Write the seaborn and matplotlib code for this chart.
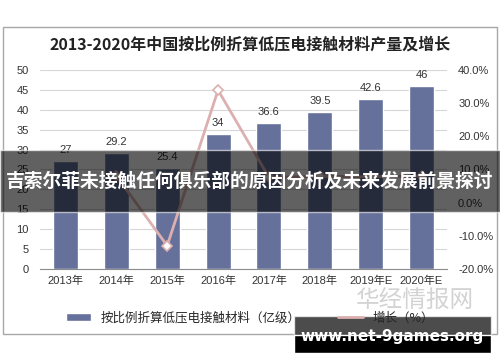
import numpy as np
import pandas as pd
import seaborn as sns
import matplotlib
matplotlib.use('Agg')
from matplotlib import pyplot as plt
from matplotlib.patches import Rectangle, Patch
from matplotlib.lines import Line2D
from matplotlib.ticker import FuncFormatter

# data
years = ['2013年', '2014年', '2015年', '2016年', '2017年', '2018年', '2019年E', '2020年E']
output = [27, 29.2, 25.4, 34, 36.6, 39.5, 42.6, 46]
growth = [np.nan, 8.1, -13.0, 33.9, 7.6, 7.9, 7.8, 8.0]

title = '2013-2020年中国按比例折算低压电接触材料产量及增长'
bar_label = '按比例折算低压电接触材料（亿级）'
line_label = '增长（%）'
banner = '吉索尔菲未接触任何俱乐部的原因分析及未来发展前景探讨'
site = 'www.net-9games.org'

sns.set_style('white')
plt.rcParams['font.family'] = ['Liberation Sans', 'Noto Sans CJK SC', 'DejaVu Sans']

bar_color = '#66719b'
line_color = '#dcb0b0'

df = pd.DataFrame({'year': years, 'output': output, 'growth': growth})

fig = plt.figure(figsize=(5, 3.62), dpi=100)
fig.patches.append(Rectangle((0.006, 0.077), 0.988, 0.848, transform=fig.transFigure,
                             fill=False, edgecolor='#a8a8a8', lw=1))
ax = fig.add_axes([0.08, 0.257, 0.814, 0.55])

sns.barplot(data=df, x='year', y='output', color=bar_color, width=0.49,
            saturation=1, ax=ax, zorder=2)
ax.set_ylim(0, 50)
ax.set_yticks(range(0, 51, 5))
ax.set_xlim(-0.5, len(years) - 0.5)
ax.grid(axis='y', color='#d6d6d6', lw=0.8, zorder=0)
ax.set_axisbelow(True)
for s in ['left', 'right', 'top']:
    ax.spines[s].set_visible(False)
ax.spines['bottom'].set_color('#8c8c8c')
ax.set_xlabel('')
ax.set_ylabel('')
ax.tick_params(axis='y', length=0, labelsize=8, colors='#333333', pad=8)
ax.tick_params(axis='x', length=0, labelsize=8, colors='#333333', pad=5)
ax.set_xticks(np.arange(-0.5, len(years)), minor=True)
ax.tick_params(axis='x', which='minor', length=4, color='#8c8c8c', direction='out')
for i, v in enumerate(output):
    ax.text(i, v + 1.5, f'{v:g}', ha='center', va='bottom', fontsize=8, color='#333333')

ax2 = ax.twinx()
pos = np.arange(len(years))
ax2.plot(pos, df['growth'], color=line_color, lw=2, marker='D', markersize=5,
         markerfacecolor='white', markeredgecolor=line_color, markeredgewidth=1.2, zorder=3)
ax2.set_ylim(-20, 40)
ax2.set_yticks(range(-20, 41, 10))
ax2.yaxis.set_major_formatter(FuncFormatter(lambda v, p: f'{v:.1f}%'))
ax2.tick_params(axis='y', length=0, labelsize=8, colors='#333333', pad=8)
for s in ax2.spines.values():
    s.set_visible(False)

fig.text(0.5, 0.876, title, ha='center', va='center', fontsize=11.5, fontweight='bold',
         family=['Noto Sans CJK SC'], color='#222222')

handles = [Patch(facecolor=bar_color), Line2D([0], [0], color=line_color, lw=2)]
fig.legend(handles, [bar_label, line_label], loc='center', bbox_to_anchor=(0.5, 0.122),
           ncol=2, frameon=False, fontsize=9, handlelength=2, columnspacing=3,
           prop={'family': ['Noto Sans CJK SC'], 'size': 9})

# watermark
fig.text(0.83, 0.17, '华经情报网', ha='center', va='center', fontsize=17, color='#c8c8c8',
         family=['Noto Sans CJK SC'], alpha=0.8)

# overlay banner
fig.patches.append(Rectangle((0, 1 - 212 / 362), 1, 62 / 362, transform=fig.transFigure,
                             facecolor='black', alpha=0.62, zorder=5))
fig.text(0.5, 1 - 181 / 362, banner, ha='center', va='center', fontsize=13.5,
         fontweight='bold', color='white', family=['Noto Sans CJK SC'], zorder=6)

# site box
fig.patches.append(Rectangle((294 / 500, 1 - 335 / 362), 197 / 500, 19 / 362,
                             transform=fig.transFigure, facecolor='black', alpha=0.7, zorder=5))
fig.patches.append(Rectangle((294 / 500, 1 - 353 / 362), 197 / 500, 18 / 362,
                             transform=fig.transFigure, facecolor='black', zorder=5))
fig.text(0.785, 1 - 336 / 362, site, ha='center', va='center', fontsize=11,
         fontweight='bold', color='white', family=['DejaVu Sans'], zorder=6)

fig.savefig('out.png', dpi=100)
